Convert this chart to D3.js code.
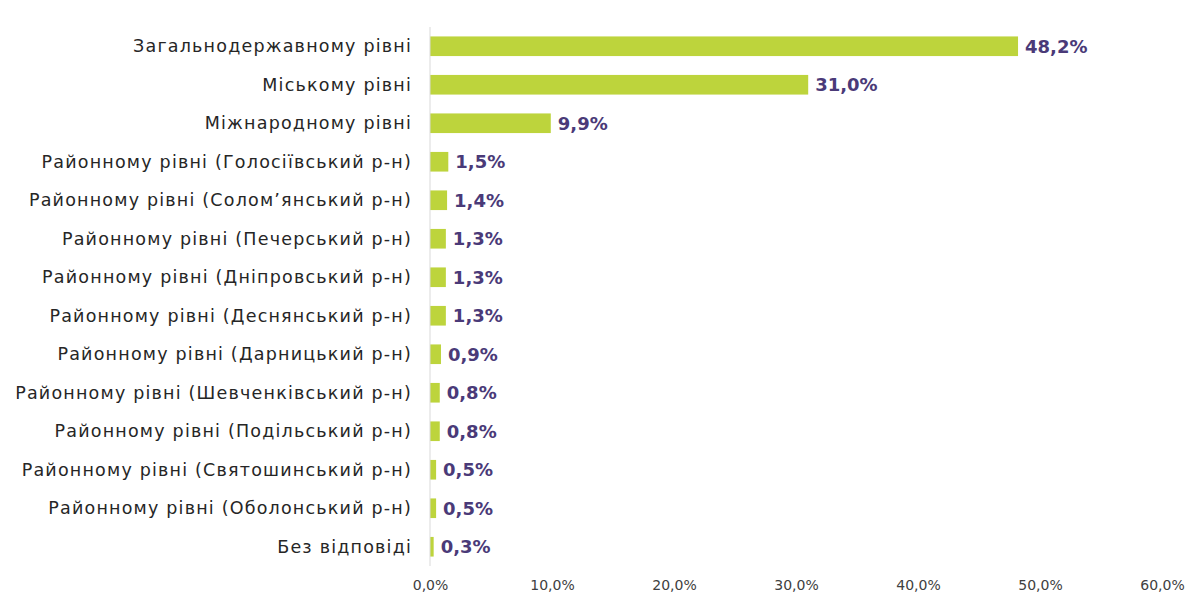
<!DOCTYPE html>
<html>
  <head>
    <meta charset="utf-8">
    <script src="https://d3js.org/d3.v7.min.js"></script>
    <style>
      body { margin: 0; background: #fff; font-family: "DejaVu Sans", sans-serif; }
      .cat { font-size: 17.5px; letter-spacing: 1.2px; fill: #262626; }
      .val { font-size: 18px; font-weight: 700; fill: #4a3a78; }
      .tick text { font-family: "DejaVu Sans", sans-serif; font-size: 14px; fill: #404040; }
    </style>
  </head>
  <body>
    <script>
      var categories = [
        "Загальнодержавному рівні",
        "Міському рівні",
        "Міжнародному рівні",
        "Районному рівні (Голосіївський р-н)",
        "Районному рівні (Солом’янський р-н)",
        "Районному рівні (Печерський р-н)",
        "Районному рівні (Дніпровський р-н)",
        "Районному рівні (Деснянський р-н)",
        "Районному рівні (Дарницький р-н)",
        "Районному рівні (Шевченківський р-н)",
        "Районному рівні (Подільський р-н)",
        "Районному рівні (Святошинський р-н)",
        "Районному рівні (Оболонський р-н)",
        "Без відповіді"
      ]
      var values = [48.2, 31.0, 9.9, 1.5, 1.4, 1.3, 1.3, 1.3, 0.9, 0.8, 0.8, 0.5, 0.5, 0.3]
      var ticks = [0, 10, 20, 30, 40, 50, 60]

      var width = 1186, height = 594
      var plotLeft = 430, plotRight = 1162, plotTop = 27, plotBottom = 566

      var svg = d3.select("body").append("svg")
        .attr("width", width)
        .attr("height", height)

      var x = d3.scaleLinear().domain([0, 60]).range([plotLeft, plotRight])
      var y = d3.scaleBand().domain(categories).range([plotTop, plotBottom]).paddingInner(0.49).paddingOuter(0.245)

      var fmt = function(v) { return v.toFixed(1).replace(".", ",") + "%" }

      // bars
      svg.selectAll(".bar")
        .data(values)
        .enter().append("rect")
          .attr("class", "bar")
          .attr("x", x(0))
          .attr("y", function(d, i) { return y(categories[i]) })
          .attr("width", function(d) { return x(d) - x(0) })
          .attr("height", y.bandwidth())
          .attr("fill", "#bdd43c")

      // vertical axis line
      svg.append("line")
        .attr("x1", x(0)).attr("x2", x(0))
        .attr("y1", plotTop).attr("y2", plotBottom)
        .attr("stroke", "#d9d9d9")
        .attr("stroke-width", 1)

      // category labels (letter-spacing adds trailing space, so shift right by it)
      svg.selectAll(".cat")
        .data(categories)
        .enter().append("text")
          .attr("class", "cat")
          .attr("x", x(0) - 18)
          .attr("y", function(d) { return y(d) + y.bandwidth() / 2 })
          .attr("dy", "0.35em")
          .attr("text-anchor", "end")
          .text(function(d) { return d })

      // value labels
      svg.selectAll(".val")
        .data(values)
        .enter().append("text")
          .attr("class", "val")
          .attr("x", function(d) { return x(d) + 7 })
          .attr("y", function(d, i) { return y(categories[i]) + y.bandwidth() / 2 })
          .attr("dy", "0.35em")
          .text(function(d) { return fmt(d) })

      // x axis
      var xAxis = d3.axisBottom(x)
        .tickValues(ticks)
        .tickSize(0)
        .tickPadding(0)
        .tickFormat(function(d) { return fmt(d) })

      svg.append("g")
        .attr("transform", "translate(0," + 580 + ")")
        .call(xAxis)
        .call(function(g) { g.select(".domain").remove() })
    </script>
  </body>
</html>
